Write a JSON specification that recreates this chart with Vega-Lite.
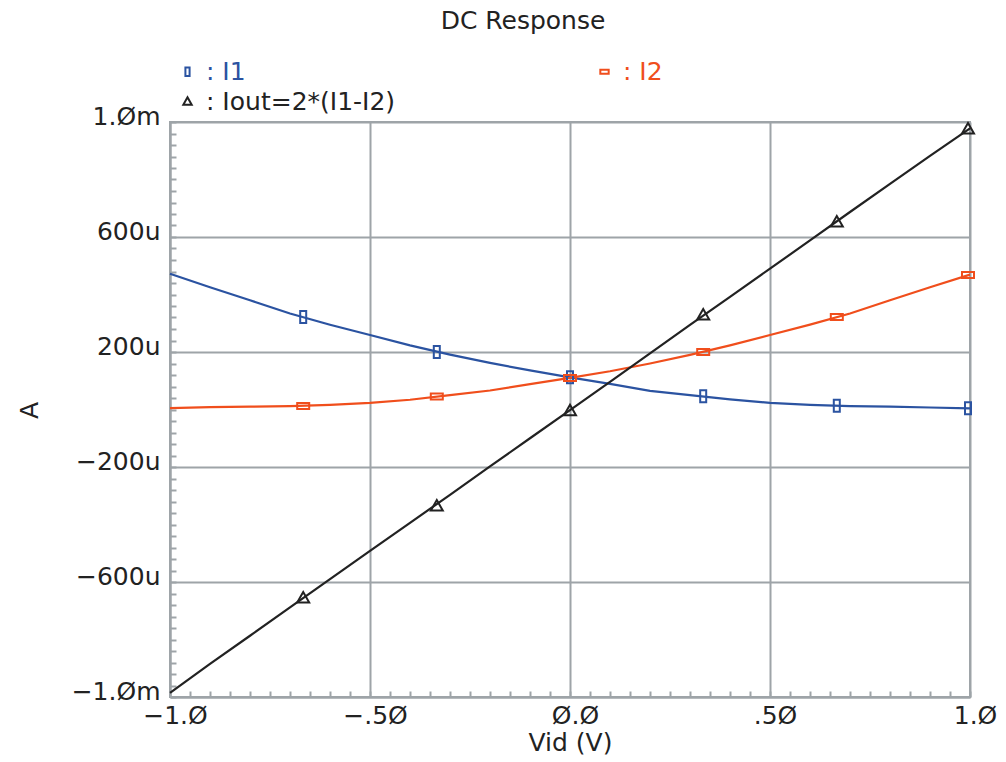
{
  "$schema": "https://vega.github.io/schema/vega-lite/v6.json",
  "width": 800,
  "height": 575,
  "autosize": "none",
  "padding": {"left": 170, "top": 122, "right": 36, "bottom": 65},
  "background": "white",
  "title": {
    "text": "DC Response",
    "font": "DejaVu Sans",
    "fontSize": 25,
    "fontWeight": "normal",
    "color": "#222222",
    "anchor": "middle",
    "frame": "group",
    "dx": -47,
    "offset": 25
  },
  "config": {
    "view": {"stroke": "#9ea4a8", "strokeWidth": 2},
    "axis": {
      "labelFont": "DejaVu Sans",
      "labelFontSize": 25,
      "labelColor": "#222222",
      "titleFont": "DejaVu Sans",
      "titleFontSize": 25,
      "titleFontWeight": "normal",
      "titleColor": "#222222",
      "domainColor": "#9ea4a8",
      "domainWidth": 2,
      "tickColor": "#9ea4a8",
      "tickWidth": 2,
      "gridColor": "#9ea4a8",
      "gridWidth": 2,
      "labelOverlap": false,
      "labelFlush": false
    },
    "legend": {
      "title": null,
      "orient": "none",
      "legendX": 5,
      "legendY": -63,
      "direction": "horizontal",
      "columns": 2,
      "columnPadding": 196,
      "rowPadding": 4,
      "padding": 0,
      "labelFont": "DejaVu Sans",
      "labelFontSize": 25,
      "labelOffset": 6,
      "labelLimit": 400,
      "symbolSize": 70,
      "symbolStrokeWidth": 2
    }
  },
  "datasets": {
    "lines": [
      {"series": "I1", "vid": -1.0, "current": 0.472},
      {"series": "I1", "vid": -0.9, "current": 0.425},
      {"series": "I1", "vid": -0.8, "current": 0.380},
      {"series": "I1", "vid": -0.7, "current": 0.334},
      {"series": "I1", "vid": -0.6, "current": 0.295},
      {"series": "I1", "vid": -0.5, "current": 0.259},
      {"series": "I1", "vid": -0.4, "current": 0.223},
      {"series": "I1", "vid": -0.3, "current": 0.191},
      {"series": "I1", "vid": -0.2, "current": 0.162},
      {"series": "I1", "vid": -0.1, "current": 0.136},
      {"series": "I1", "vid": 0.0, "current": 0.112},
      {"series": "I1", "vid": 0.1, "current": 0.089},
      {"series": "I1", "vid": 0.2, "current": 0.065},
      {"series": "I1", "vid": 0.3, "current": 0.050},
      {"series": "I1", "vid": 0.4, "current": 0.035},
      {"series": "I1", "vid": 0.5, "current": 0.023},
      {"series": "I1", "vid": 0.6, "current": 0.016},
      {"series": "I1", "vid": 0.7, "current": 0.012},
      {"series": "I1", "vid": 0.8, "current": 0.010},
      {"series": "I1", "vid": 0.9, "current": 0.007},
      {"series": "I1", "vid": 1.0, "current": 0.004},
      {"series": "I2", "vid": -1.0, "current": 0.005},
      {"series": "I2", "vid": -0.9, "current": 0.008},
      {"series": "I2", "vid": -0.8, "current": 0.010},
      {"series": "I2", "vid": -0.7, "current": 0.012},
      {"series": "I2", "vid": -0.6, "current": 0.016},
      {"series": "I2", "vid": -0.5, "current": 0.023},
      {"series": "I2", "vid": -0.4, "current": 0.034},
      {"series": "I2", "vid": -0.3, "current": 0.050},
      {"series": "I2", "vid": -0.2, "current": 0.066},
      {"series": "I2", "vid": -0.1, "current": 0.088},
      {"series": "I2", "vid": 0.0, "current": 0.110},
      {"series": "I2", "vid": 0.1, "current": 0.133},
      {"series": "I2", "vid": 0.2, "current": 0.160},
      {"series": "I2", "vid": 0.3, "current": 0.190},
      {"series": "I2", "vid": 0.4, "current": 0.223},
      {"series": "I2", "vid": 0.5, "current": 0.259},
      {"series": "I2", "vid": 0.6, "current": 0.295},
      {"series": "I2", "vid": 0.7, "current": 0.334},
      {"series": "I2", "vid": 0.8, "current": 0.380},
      {"series": "I2", "vid": 0.9, "current": 0.425},
      {"series": "I2", "vid": 1.0, "current": 0.469},
      {"series": "Iout=2*(I1-I2)", "vid": -1.0, "current": -0.986},
      {"series": "Iout=2*(I1-I2)", "vid": -0.9, "current": -0.885},
      {"series": "Iout=2*(I1-I2)", "vid": -0.8, "current": -0.787},
      {"series": "Iout=2*(I1-I2)", "vid": -0.7, "current": -0.688},
      {"series": "Iout=2*(I1-I2)", "vid": -0.6, "current": -0.590},
      {"series": "Iout=2*(I1-I2)", "vid": -0.5, "current": -0.492},
      {"series": "Iout=2*(I1-I2)", "vid": -0.4, "current": -0.394},
      {"series": "Iout=2*(I1-I2)", "vid": -0.3, "current": -0.297},
      {"series": "Iout=2*(I1-I2)", "vid": -0.2, "current": -0.198},
      {"series": "Iout=2*(I1-I2)", "vid": -0.1, "current": -0.100},
      {"series": "Iout=2*(I1-I2)", "vid": 0.0, "current": -0.002},
      {"series": "Iout=2*(I1-I2)", "vid": 0.1, "current": 0.096},
      {"series": "Iout=2*(I1-I2)", "vid": 0.2, "current": 0.195},
      {"series": "Iout=2*(I1-I2)", "vid": 0.3, "current": 0.294},
      {"series": "Iout=2*(I1-I2)", "vid": 0.4, "current": 0.392},
      {"series": "Iout=2*(I1-I2)", "vid": 0.5, "current": 0.490},
      {"series": "Iout=2*(I1-I2)", "vid": 0.6, "current": 0.588},
      {"series": "Iout=2*(I1-I2)", "vid": 0.7, "current": 0.687},
      {"series": "Iout=2*(I1-I2)", "vid": 0.8, "current": 0.785},
      {"series": "Iout=2*(I1-I2)", "vid": 0.9, "current": 0.882},
      {"series": "Iout=2*(I1-I2)", "vid": 1.0, "current": 0.978}
    ],
    "markers": [
      {"series": "I1", "vid": -0.667, "current": 0.322},
      {"series": "I1", "vid": -0.333, "current": 0.200},
      {"series": "I1", "vid": 0.0, "current": 0.112},
      {"series": "I1", "vid": 0.333, "current": 0.046},
      {"series": "I1", "vid": 0.667, "current": 0.013},
      {"series": "I1", "vid": 0.995, "current": 0.004},
      {"series": "I2", "vid": -0.667, "current": 0.012},
      {"series": "I2", "vid": -0.333, "current": 0.045},
      {"series": "I2", "vid": 0.0, "current": 0.110},
      {"series": "I2", "vid": 0.333, "current": 0.200},
      {"series": "I2", "vid": 0.667, "current": 0.322},
      {"series": "I2", "vid": 0.995, "current": 0.468},
      {"series": "Iout=2*(I1-I2)", "vid": -0.667, "current": -0.656},
      {"series": "Iout=2*(I1-I2)", "vid": -0.333, "current": -0.336},
      {"series": "Iout=2*(I1-I2)", "vid": 0.0, "current": -0.004},
      {"series": "Iout=2*(I1-I2)", "vid": 0.333, "current": 0.329},
      {"series": "Iout=2*(I1-I2)", "vid": 0.667, "current": 0.652},
      {"series": "Iout=2*(I1-I2)", "vid": 0.995, "current": 0.976}
    ]
  },
  "encoding": {
    "x": {
      "field": "vid",
      "type": "quantitative",
      "title": "Vid (V)",
      "scale": {"domain": [-1, 1], "nice": false, "zero": false},
      "axis": {
        "values": [-1, -0.95, -0.9, -0.85, -0.8, -0.75, -0.7, -0.65, -0.6, -0.55, -0.5, -0.45, -0.4, -0.35, -0.3, -0.25, -0.2, -0.15, -0.1, -0.05, 0, 0.05, 0.1, 0.15, 0.2, 0.25, 0.3, 0.35, 0.4, 0.45, 0.5, 0.55, 0.6, 0.65, 0.7, 0.75, 0.8, 0.85, 0.9, 0.95, 1],
        "tickSize": -6,
        "labelPadding": 12,
        "labelOffset": 5,
        "labelExpr": "round(datum.value*100) == -100 ? '−1.Ø' : round(datum.value*100) == -50 ? '−.5Ø' : round(datum.value*100) == 0 ? 'Ø.Ø' : round(datum.value*100) == 50 ? '.5Ø' : round(datum.value*100) == 100 ? '1.Ø' : ''",
        "gridOpacity": {"condition": {"test": "abs(round(datum.value*100)) % 50 == 0", "value": 1}, "value": 0},
        "titlePadding": 2
      }
    },
    "y": {
      "field": "current",
      "type": "quantitative",
      "title": "A",
      "scale": {"domain": [-1, 1], "nice": false, "zero": false},
      "axis": {
        "values": [-1, -0.96, -0.92, -0.88, -0.84, -0.8, -0.76, -0.72, -0.68, -0.64, -0.6, -0.56, -0.52, -0.48, -0.44, -0.4, -0.36, -0.32, -0.28, -0.24, -0.2, -0.16, -0.12, -0.08, -0.04, 0, 0.04, 0.08, 0.12, 0.16, 0.2, 0.24, 0.28, 0.32, 0.36, 0.4, 0.44, 0.48, 0.52, 0.56, 0.6, 0.64, 0.68, 0.72, 0.76, 0.8, 0.84, 0.88, 0.92, 0.96, 1],
        "tickSize": -6,
        "labelPadding": 16,
        "labelOffset": -6,
        "labelExpr": "round(datum.value*100) == 100 ? '1.Øm' : round(datum.value*100) == 60 ? '600u' : round(datum.value*100) == 20 ? '200u' : round(datum.value*100) == -20 ? '−200u' : round(datum.value*100) == -60 ? '−600u' : round(datum.value*100) == -100 ? '−1.Øm' : ''",
        "gridOpacity": {"condition": {"test": "abs(round(datum.value*100)) % 40 == 20", "value": 1}, "value": 0},
        "titleX": -128,
        "titleY": 288
      }
    },
    "color": {
      "field": "series",
      "type": "nominal",
      "scale": {"domain": ["I1", "I2", "Iout=2*(I1-I2)"], "range": ["#2b53a1", "#f04e1c", "#222222"]},
      "legend": {
        "labelExpr": "': ' + datum.label",
        "labelColor": {"expr": "datum.value == 'I1' ? '#2b53a1' : datum.value == 'I2' ? '#f04e1c' : '#222222'"}
      }
    }
  },
  "layer": [
    {
      "data": {"name": "lines"},
      "mark": {"type": "line", "strokeWidth": 2.2, "interpolate": "linear"}
    },
    {
      "data": {"name": "markers"},
      "mark": {"type": "point", "filled": false, "strokeWidth": 2, "size": 144, "opacity": 1},
      "encoding": {
        "shape": {
          "field": "series",
          "type": "nominal",
          "scale": {"domain": ["I1", "I2", "Iout=2*(I1-I2)"], "range": ["M-0.5,-1H0.5V1H-0.5Z", "M-1,-0.5H1V0.5H-1Z", "M0,-1L1,0.75H-1Z"]},
          "legend": {
            "labelExpr": "': ' + datum.label",
            "labelColor": {"expr": "datum.value == 'I1' ? '#2b53a1' : datum.value == 'I2' ? '#f04e1c' : '#222222'"}
          }
        }
      }
    }
  ]
}
